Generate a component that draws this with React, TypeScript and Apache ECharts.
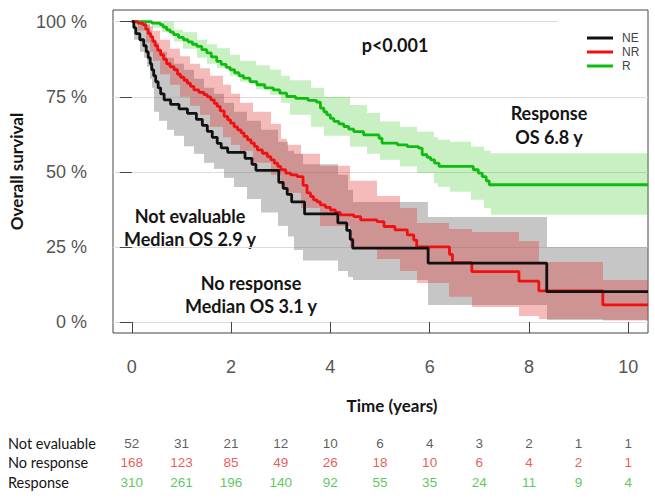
import React, { useEffect, useRef } from "react";
import * as echarts from "echarts";

// ---- data ----
const years = [0, 1, 2, 3, 4, 5, 6, 7, 8, 9, 10];
const riskNE = [52, 31, 21, 12, 10, 6, 4, 3, 2, 1, 1];
const riskNR = [168, 123, 85, 49, 26, 18, 10, 6, 4, 2, 1];
const riskR = [310, 261, 196, 140, 92, 55, 35, 24, 11, 9, 4];
const riskRows = ["Not evaluable", "No response", "Response"];

const xTicks = [0, 2, 4, 6, 8, 10];
const yTicks = [0, 25, 50, 75, 100];

// Kaplan-Meier steps [time, survival %]
const survNE: number[][] = [
  [0, 100], [0.04, 98], [0.08, 96], [0.16, 94], [0.24, 92], [0.29, 90], [0.33, 88], [0.37, 86],
  [0.4, 84], [0.44, 82], [0.48, 80], [0.53, 78], [0.58, 76], [0.65, 74], [0.78, 72.5], [0.95, 71],
  [1.12, 69.5], [1.3, 67.5], [1.42, 65.5], [1.52, 63.5], [1.62, 61.5], [1.72, 59.5], [1.8, 58],
  [1.93, 56.5], [2.28, 54.5], [2.42, 52.5], [2.5, 50.5], [2.96, 46.5], [3.05, 44.5], [3.13, 42.5],
  [3.22, 40], [3.48, 36], [4.15, 33], [4.33, 30.5], [4.4, 27.5], [4.45, 24.6], [5.97, 19.6],
  [8.36, 10.1], [10.4, 10.1],
];
const survNR: number[][] = [
  [0, 100], [0.12, 99.5], [0.22, 99], [0.28, 97.5], [0.33, 96], [0.38, 95], [0.42, 93.5], [0.47, 92],
  [0.52, 90.5], [0.58, 89], [0.64, 87.5], [0.7, 86], [0.77, 85], [0.85, 84], [0.92, 82.5], [0.98, 81.5],
  [1.05, 80.5], [1.12, 79.5], [1.18, 78.5], [1.25, 77.3], [1.35, 76.5], [1.45, 75.7], [1.52, 75],
  [1.59, 74], [1.66, 72.8], [1.72, 71.8], [1.78, 70.3], [1.86, 68.5], [1.93, 67.3], [1.99, 66.2],
  [2.06, 65], [2.13, 64], [2.2, 63], [2.26, 61.8], [2.33, 60.7], [2.4, 59.6], [2.47, 58.5], [2.53, 57.3],
  [2.63, 56.2], [2.73, 55.1], [2.8, 54], [2.87, 52.9], [2.94, 51.8], [3.0, 50.7], [3.1, 49.6], [3.2, 49],
  [3.33, 48.4], [3.45, 45.5], [3.53, 43], [3.6, 41.8], [3.66, 40.7], [3.73, 40], [3.8, 39], [3.9, 38.2],
  [4.0, 37.3], [4.1, 36.5], [4.2, 35.7], [4.47, 35.1], [4.61, 34], [4.94, 33.4], [5.08, 31.8], [5.3, 30.7],
  [5.55, 29], [5.68, 27.3], [5.74, 25], [6.4, 22.5], [6.46, 19.8], [6.85, 16.8], [7.8, 13.6], [8.2, 10.4],
  [9.49, 5.7], [10.4, 5.7],
];
const survR: number[][] = [
  [0, 100], [0.3, 100], [0.4, 99.5], [0.57, 99], [0.63, 98.2], [0.7, 97.3], [0.77, 96.5], [0.84, 95.7],
  [0.94, 94.8], [1.04, 94], [1.13, 93.3], [1.22, 92.5], [1.31, 91.8], [1.41, 90.7], [1.51, 89.6],
  [1.6, 88.3], [1.71, 86.8], [1.8, 85.8], [1.9, 84.8], [1.98, 84], [2.07, 83], [2.16, 82], [2.25, 81.2],
  [2.38, 80], [2.52, 79], [2.68, 78], [2.85, 77.3], [2.98, 76.2], [3.12, 75.1], [3.3, 74.5], [3.55, 73.8],
  [3.72, 73.2], [3.8, 71.2], [3.87, 70], [3.93, 69], [4.0, 67.8], [4.07, 66.8], [4.17, 66], [4.27, 65.1],
  [4.37, 64.2], [4.47, 63.4], [4.67, 62.3], [4.98, 61.2], [5.04, 59.6], [5.35, 59], [5.55, 58.4],
  [5.78, 57.9], [5.85, 55.7], [5.95, 54.8], [6.02, 54], [6.1, 52.9], [6.19, 51.8], [6.88, 50.7],
  [6.98, 49.6], [7.06, 48.4], [7.14, 47], [7.2, 45.7], [10.4, 45.7],
];

// confidence bands [time, lower %, upper %]
const bandNE: number[][] = [
  [0, 100, 100], [0.04, 94, 100], [0.16, 90, 100], [0.24, 88, 99.5], [0.3, 85, 99], [0.36, 81, 97],
  [0.41, 78, 95], [0.44, 70, 93], [0.55, 67, 90], [0.71, 64, 88], [0.85, 62, 86], [1.05, 58.5, 84],
  [1.25, 56, 81], [1.45, 53, 78], [1.66, 51, 76], [1.86, 48, 73], [2.06, 45, 70], [2.33, 41, 67],
  [2.6, 36.5, 64], [2.94, 32, 60], [3.14, 28.5, 57], [3.27, 24, 56], [3.45, 20.5, 52.5], [4.15, 17, 49],
  [4.35, 15, 44], [4.45, 14, 40], [5.97, 5.7, 35], [8.36, 0.7, 25], [10.4, 0.7, 25],
];
const bandNR: number[][] = [
  [0, 100, 100], [0.12, 97, 100], [0.28, 93, 99.5], [0.36, 90, 98.5], [0.43, 87, 97], [0.57, 82.5, 94],
  [0.77, 79, 91], [0.98, 75, 88.5], [1.17, 72, 86], [1.37, 69, 84.5], [1.58, 65, 82], [1.84, 61.5, 79],
  [2.0, 59, 76], [2.18, 57, 73], [2.45, 53, 70], [2.8, 49, 66], [3.0, 45, 61], [3.12, 43, 59],
  [3.4, 38, 56], [3.8, 32, 52], [4.4, 25, 47], [4.94, 21, 42], [5.41, 17, 38], [5.75, 13, 33],
  [6.4, 8.4, 31], [6.85, 5, 30], [7.8, 2, 27], [8.2, 1, 20], [9.49, 0.5, 14], [10.4, 0.5, 14],
];
const bandR: number[][] = [
  [0, 100, 100], [0.4, 98, 100], [0.6, 96.5, 100], [0.84, 93.4, 97.3], [1.04, 91, 96.5], [1.31, 88, 94],
  [1.51, 86, 92.5], [1.71, 84.6, 91.2], [1.98, 82, 89], [2.18, 80, 87], [2.5, 77.5, 85.5], [2.79, 75.7, 84],
  [3.0, 73, 82], [3.19, 69, 80.5], [3.6, 65, 78], [3.87, 62, 75], [4.4, 58.4, 72.3], [4.74, 56, 69.6],
  [5.0, 54, 66.8], [5.41, 51.8, 65], [5.75, 49.6, 63.4], [6.09, 46.2, 61.5], [6.16, 45, 60.7],
  [6.42, 43.4, 60], [6.83, 40.7, 58.4], [7.1, 37.9, 57], [7.23, 35.7, 56.2], [10.4, 35.7, 56.2],
];

const X_MIN = -0.38;
const X_MAX = 10.4;
const Y_MIN = -3.66;
const Y_MAX = 103.9;

const COL_NE = "#111111";
const COL_NR = "#f01010";
const COL_R = "#10bb10";

const labelFont = "Lato, 'Noto Sans', sans-serif";
const numFont = "'Liberation Sans', Arial, sans-serif";

function bandSeries(key: string, band: number[][], color: string, z: number) {
  const segs = band.slice(0, -1).map((b, i) => [b[0], band[i + 1][0], b[1], b[2]]);
  return {
    type: "custom",
    name: key,
    data: segs,
    silent: true,
    z,
    encode: { x: [0, 1], y: [2, 3] },
    renderItem: (_params: any, api: any) => {
      const pTop = api.coord([api.value(0), api.value(3)]);
      const pBot = api.coord([api.value(1), api.value(2)]);
      const x0 = Math.round(pTop[0]);
      const x1 = Math.round(pBot[0]);
      return {
        type: "rect",
        shape: { x: x0, y: pTop[1], width: x1 - x0, height: pBot[1] - pTop[1] },
        style: { fill: color },
      };
    },
  };
}

function curveSeries(name: string, data: number[][], color: string, z: number) {
  return {
    type: "line",
    name,
    data,
    step: "end",
    symbol: "none",
    color,
    lineStyle: { color, width: 2.8 },
    z,
  };
}

function riskSeries(row: string, values: number[], color: string) {
  return {
    type: "scatter",
    xAxisIndex: 1,
    yAxisIndex: 1,
    symbolSize: 2,
    itemStyle: { color: "rgba(0,0,0,0)" },
    silent: true,
    z: 6,
    data: years.map((y, i) => [y, row, values[i]]),
    label: {
      show: true,
      position: "inside",
      formatter: (p: any) => String(p.value[2]),
      color,
      fontSize: 13.5,
      fontFamily: numFont,
    },
  };
}

const gridLineData: any[] = [
  [{ coord: [X_MIN, 0] }, { coord: [X_MAX, 0] }],
  [{ coord: [X_MIN, 25] }, { coord: [X_MAX, 25] }],
  [{ coord: [X_MIN, 50] }, { coord: [X_MAX, 50] }],
  [{ coord: [X_MIN, 75] }, { coord: [X_MAX, 75] }],
  [{ coord: [X_MIN, 100] }, { coord: [8.58, 100] }],
];

export default function App() {
  const ref = useRef<HTMLDivElement>(null);
  useEffect(() => {
    if (!ref.current) return;
    const chart = echarts.init(ref.current, undefined, { renderer: "svg" });
    const annoStyle = {
      fontSize: 18,
      fontFamily: labelFont,
      fontWeight: "bold",
      fill: "#151515",
      align: "center",
      verticalAlign: "middle",
    };
    const option: any = {
      animation: false,
      backgroundColor: "#ffffff",
      grid: [
        {
          left: 113, right: 7, top: 10, bottom: 171, show: true, borderColor: "#444", borderWidth: 1,
          backgroundColor: "transparent", containLabel: false, outerBoundsMode: "none",
        },
        { left: 113, right: 7, top: 433.25, height: 58.5, containLabel: false, outerBoundsMode: "none" },
      ],
      xAxis: [
        {
          type: "value",
          gridIndex: 0,
          min: X_MIN,
          max: X_MAX,
          offset: 2,
          axisLine: { show: false },
          splitLine: { show: false },
          axisTick: { show: true, customValues: xTicks, length: 11, lineStyle: { color: "#444" } },
          axisLabel: { customValues: xTicks, margin: 23, fontSize: 18, color: "#555", fontFamily: numFont },
        },
        { type: "value", gridIndex: 1, min: X_MIN, max: X_MAX, show: false },
      ],
      yAxis: [
        {
          type: "value",
          gridIndex: 0,
          min: Y_MIN,
          max: Y_MAX,
          offset: 1,
          axisLine: { show: false },
          splitLine: { show: false },
          axisTick: { show: true, customValues: yTicks, length: 12, lineStyle: { color: "#444" } },
          axisLabel: {
            customValues: yTicks,
            formatter: (v: number) => v + " %",
            margin: 25,
            fontSize: 18,
            color: "#555",
            fontFamily: numFont,
          },
          name: "Overall survival",
          nameLocation: "middle",
          nameGap: 83,
          nameTextStyle: { fontSize: 17, fontWeight: "bold", fontFamily: labelFont, color: "#151515" },
        },
        {
          type: "category",
          gridIndex: 1,
          data: riskRows,
          inverse: true,
          axisLine: { show: false },
          axisTick: { show: false },
          splitLine: { show: false },
          axisLabel: {
            interval: 0,
            hideOverlap: false,
            align: "left",
            margin: 105,
            fontSize: 14.5,
            color: "#151515",
            fontFamily: labelFont,
          },
        },
      ],
      legend: {
        data: [
          { name: "NE", icon: "rect" },
          { name: "NR", icon: "rect" },
          { name: "R", icon: "rect" },
        ],
        orient: "vertical",
        left: 587,
        top: 31,
        padding: 0,
        itemGap: 0,
        itemWidth: 26,
        itemHeight: 3,
        selectedMode: false,
        textStyle: { fontSize: 12, color: "#444", fontFamily: numFont, lineHeight: 14, padding: [0, 0, 0, 4] },
      },
      graphic: [
        { type: "text", x: 392, y: 405, style: { ...annoStyle, fontSize: 17, text: "Time (years)" } },
        { type: "text", x: 395, y: 45, style: { ...annoStyle, text: "p<0.001" } },
        { type: "text", x: 549, y: 113, style: { ...annoStyle, text: "Response" } },
        { type: "text", x: 549, y: 137, style: { ...annoStyle, text: "OS 6.8 y" } },
        { type: "text", x: 190, y: 216, style: { ...annoStyle, text: "Not evaluable" } },
        { type: "text", x: 190, y: 239, style: { ...annoStyle, text: "Median OS 2.9 y" } },
        { type: "text", x: 251, y: 283, style: { ...annoStyle, text: "No response" } },
        { type: "text", x: 251, y: 306, style: { ...annoStyle, text: "Median OS 3.1 y" } },
      ],
      series: [
        {
          type: "line",
          name: "gridlines",
          data: [],
          silent: true,
          z: 0,
          markLine: {
            silent: true,
            symbol: ["none", "none"],
            label: { show: false },
            lineStyle: { color: "#dcdcdc", type: "solid", width: 1 },
            z: 0,
            data: gridLineData,
          },
        },
        bandSeries("bNE", bandNE, "rgba(120,120,120,0.42)", 1),
        bandSeries("bNR", bandNR, "rgba(225,40,40,0.32)", 1),
        bandSeries("bR", bandR, "rgba(60,200,40,0.28)", 1),
        curveSeries("R", survR, COL_R, 3),
        curveSeries("NR", survNR, COL_NR, 4),
        curveSeries("NE", survNE, COL_NE, 5),
        riskSeries(riskRows[0], riskNE, "#333333"),
        riskSeries(riskRows[1], riskNR, "#e33030"),
        riskSeries(riskRows[2], riskR, "#33b833"),
      ],
    };
    chart.setOption(option);
    return () => chart.dispose();
  }, []);
  return <div ref={ref} style={{ position: "absolute", left: 0, top: 0, width: 655, height: 504 }} />;
}
